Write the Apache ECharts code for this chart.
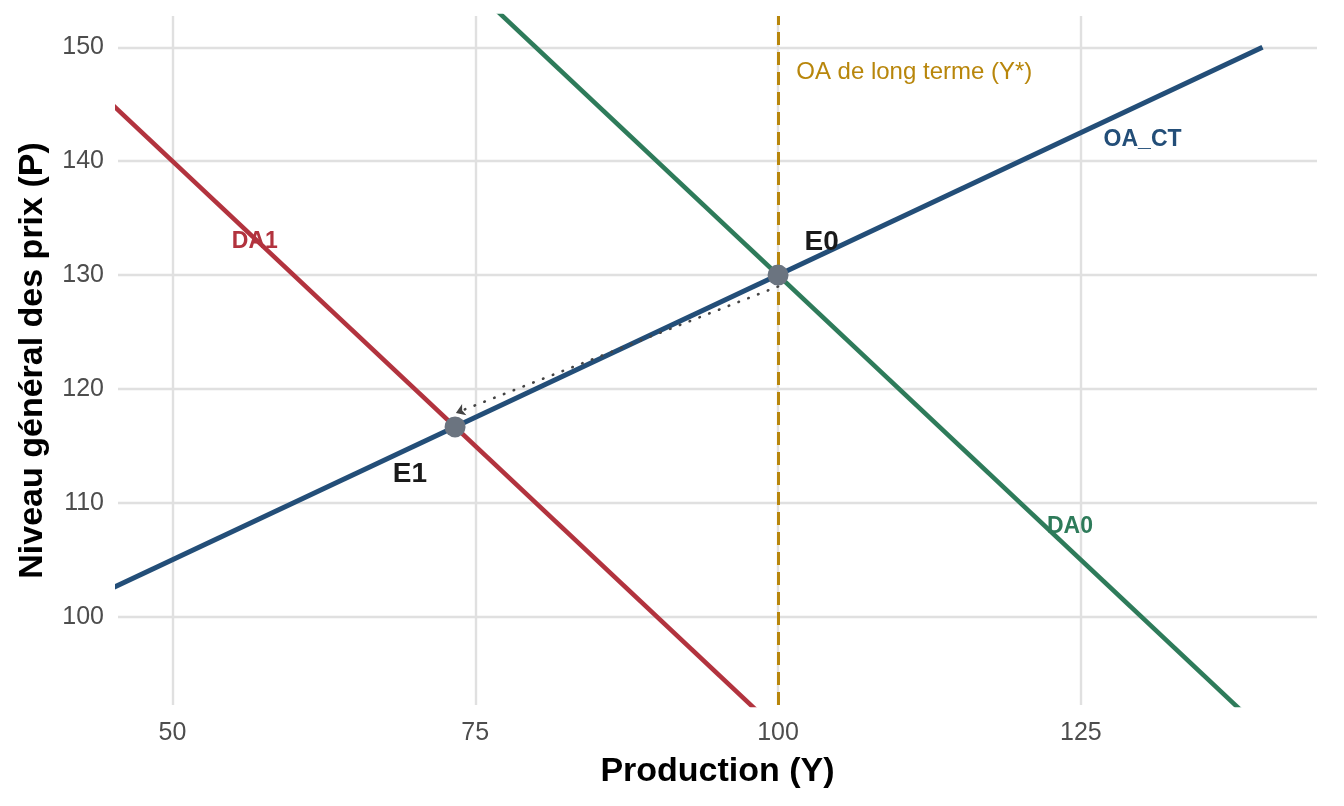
<!DOCTYPE html>
<html>
<head>
<meta charset="utf-8">
<script src="https://cdn.jsdelivr.net/npm/echarts@6/dist/echarts.min.js"></script>
<style>
html,body{margin:0;padding:0;background:#fff;}
#chart{width:1344px;height:806px;}
</style>
</head>
<body>
<div id="chart"></div>
<script>
// ---- data ----
const xTicks = [50, 75, 100, 125];
const yTicks = [100, 110, 120, 130, 140, 150];
const oaCtY = [40, 140];      // OA_CT endpoints (production)
const oaCtP = [100, 150];     // OA_CT endpoints (price)
const da0Y = [70, 140];
const da0P = [160, 90];
const da1Y = [40, 100];
const da1P = [150, 90];
const yStar = 100;            // long-run supply
const eqNames = ['E0', 'E1'];
const eqY = [100, 73.33];
const eqP = [130, 116.67];
const arrowY = [100, 73.4];   // dotted arrow E0 -> E1
const arrowP = [129, 117.9];
const labelNames = ['DA1', 'DA0', 'OA_CT', 'E0', 'E1'];
const labelY = [56.8, 124.1, 130.1, 103.6, 69.6];
const labelP = [132.9, 107.9, 141.9, 132.9, 112.5];
const labelColors = ['#B2333E', '#2E7B5A', '#234E78', '#1a1a1a', '#1a1a1a'];
const labelSizes = [23, 23, 23, 28, 28];
const longRunLabel = 'OA de long terme (Y*)';
const longRunLabelPos = [101.5, 147.8];

const pairs = (xs, ys) => xs.map((x, i) => [x, ys[i]]);
const FONT = '"Liberation Sans", Arial, Helvetica, sans-serif';

const chart = echarts.init(document.getElementById('chart'), null, {renderer: 'canvas'});
const option = {
  backgroundColor: '#fff',
  animation: false,
  grid: {left: 118, right: 27, top: 16, bottom: 101, containLabel: false},
  xAxis: {
    type: 'value', min: 45.5, max: 144.5,
    name: 'Production (Y)', nameLocation: 'middle', nameGap: 50,
    nameTextStyle: {fontFamily: FONT, fontSize: 34, fontWeight: 'bold', color: '#000'},
    axisLine: {show: false}, 
    axisTick: {show: false, customValues: xTicks},
    axisLabel: {customValues: xTicks, fontFamily: FONT, fontSize: 25, color: '#4d4d4d', margin: 16},
    splitLine: {show: true, lineStyle: {color: '#e0e0e0', width: 2.4}}
  },
  yAxis: {
    type: 'value', min: 92.25, max: 152.75,
    name: 'Niveau général des prix (P)', nameLocation: 'middle', nameGap: 68, nameRotate: 90,
    nameTextStyle: {fontFamily: FONT, fontSize: 34, fontWeight: 'bold', color: '#000'},
    axisLine: {show: false},
    axisTick: {show: false, customValues: yTicks},
    axisLabel: {customValues: yTicks, fontFamily: FONT, fontSize: 25, color: '#4d4d4d', margin: 14},
    splitLine: {show: true, lineStyle: {color: '#e0e0e0', width: 2.4}}
  },
  series: [
    {
      type: 'line', data: pairs(da1Y, da1P), symbol: 'none', clip: true,
      lineStyle: {color: '#B2333E', width: 4.6}, z: 3
    },
    {
      type: 'line', data: pairs(da0Y, da0P), symbol: 'none', clip: true,
      lineStyle: {color: '#2E7B5A', width: 4.6}, z: 3,
      markLine: {
        silent: true, symbol: 'none', label: {show: false},
        lineStyle: {color: '#B8860B', width: 3, type: [13, 7]},
        data: [{xAxis: yStar}]
      }
    },
    {
      type: 'line', data: pairs(oaCtY, oaCtP), symbol: 'none', clip: true,
      lineStyle: {color: '#234E78', width: 5}, z: 4
    },
    {
      type: 'lines', coordinateSystem: 'cartesian2d', z: 5,
      symbol: ['none', 'arrow'], symbolSize: 9,
      lineStyle: {color: '#444', width: 2.6, type: [0.5, 10], cap: 'round', opacity: 1},
      data: [{coords: pairs(arrowY, arrowP)}]
    },
    {
      type: 'scatter', data: pairs(eqY, eqP), symbolSize: 21, z: 6,
      itemStyle: {color: '#6B7480', opacity: 1}
    },
    {
      type: 'scatter', symbolSize: 0, z: 7, silent: true,
      itemStyle: {opacity: 1},
      data: labelNames.map((n, i) => ({
        value: [labelY[i], labelP[i]], name: n,
        label: {show: true, position: 'inside', formatter: n, color: labelColors[i], opacity: 1,
                fontSize: labelSizes[i], fontWeight: 'bold', fontFamily: FONT}
      })).concat([{
        value: longRunLabelPos, name: longRunLabel,
        label: {show: true, position: 'inside', align: 'left', formatter: longRunLabel, opacity: 1,
                color: '#B8860B', fontSize: 24, fontFamily: FONT}
      }])
    }
  ]
};
chart.setOption(option);
</script>
</body>
</html>
